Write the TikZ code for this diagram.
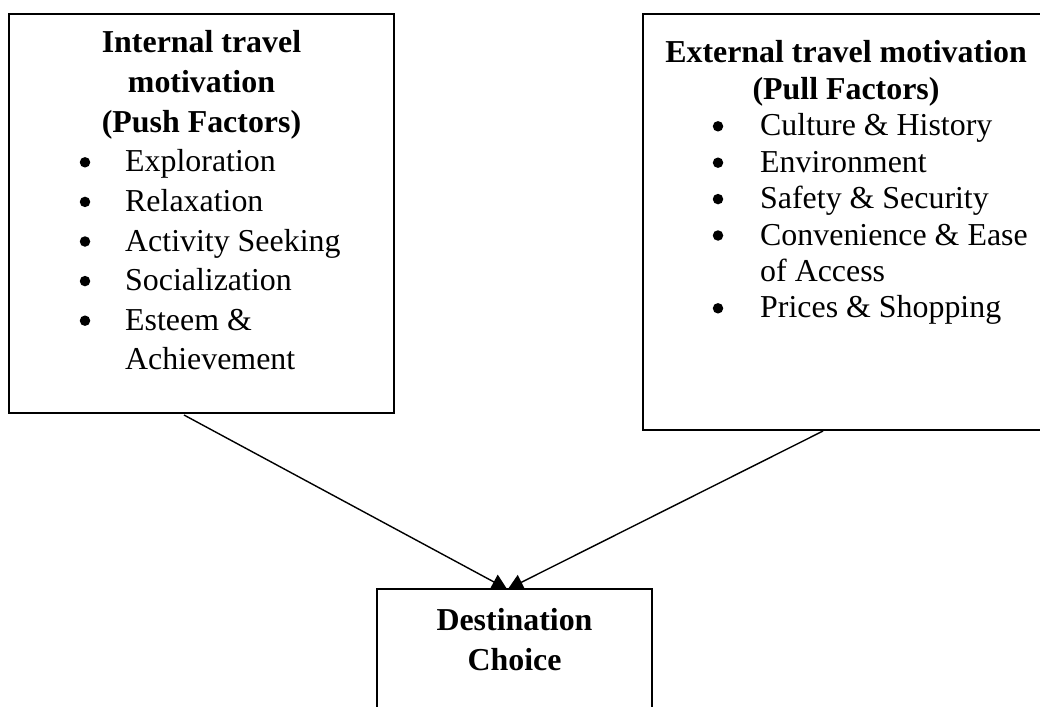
\documentclass[tikz,border=0pt]{standalone}
\usepackage{fontspec}
\setmainfont{Liberation Serif}
\usetikzlibrary{arrows.meta,calc}
\begin{document}
\begin{tikzpicture}[x=1pt,y=-1pt,
  box/.style={draw=black, line width=1.7pt, anchor=north west, inner sep=0pt, outer sep=0pt},
  ttl/.style={font=\fontsize{31.9}{38}\selectfont\bfseries, anchor=base, inner sep=0pt},
  itm/.style={font=\fontsize{31.9}{38}\selectfont, anchor=base west, inner sep=0pt},
  bul/.style={circle, fill=black, inner sep=0pt, minimum size=10.5pt},
  conn/.style={line width=1.4pt, -{Triangle[length=15pt,width=16.2pt]}}]
\useasboundingbox (0,0) rectangle (1040,706);
% boxes
\node[box, minimum width=385pt, minimum height=399pt] (push) at (9,14) {};
\node[box, minimum width=406pt, minimum height=416pt] (pull) at (643,14) {};
\node[box, minimum width=275pt, minimum height=140pt] (dest) at (377,589) {};
% left box text
\node[ttl] (pt1) at (201.5,53) {Internal travel};
\node[ttl] (pt2) at (201.5,92.6) {motivation};
\node[ttl] (pt3) at (201.5,132.2) {(Push Factors)};
\foreach \y/\t/\n in {171.8/Exploration/1, 211.4/Relaxation/2, 251/Activity Seeking/3, 290.6/Socialization/4, 330.2/Esteem \&/5}{
  \node[bul] (pb\n) at (85,\y-9.5) {};
  \node[itm] (pi\n) at (125,\y) {\t};
}
\node[itm] (pi6) at (125,369.8) {Achievement};
% right box text
\node[ttl] (lt1) at (846,63) {External travel motivation};
\node[ttl] (lt2) at (846,99.4) {(Pull Factors)};
\foreach \y/\t/\n in {135.8/Culture \& History/1, 172.2/Environment/2, 208.6/Safety \& Security/3, 245/Convenience \& Ease/4, 317.8/Prices \& Shopping/6}{
  \node[bul] (lb\n) at (718,\y-9.5) {};
  \node[itm] (li\n) at (760,\y) {\t};
}
\node[itm] (li5) at (760,281.4) {of Access};
% bottom box text
\node[ttl] (d1) at (514.5,630) {Destination};
\node[ttl] (d2) at (514.5,670) {Choice};
% connectors
\coordinate (pushout) at ($(push.south west)+(175,2)$);
\coordinate (pullout) at ($(pull.south west)+(180,1)$);
\coordinate (destL) at ($(dest.north west)+(130,0)$);
\coordinate (destR) at ($(dest.north west)+(131,0)$);
\draw[conn] (pushout) -- (destL);
\draw[conn] (pullout) -- (destR);
\end{tikzpicture}
\end{document}
